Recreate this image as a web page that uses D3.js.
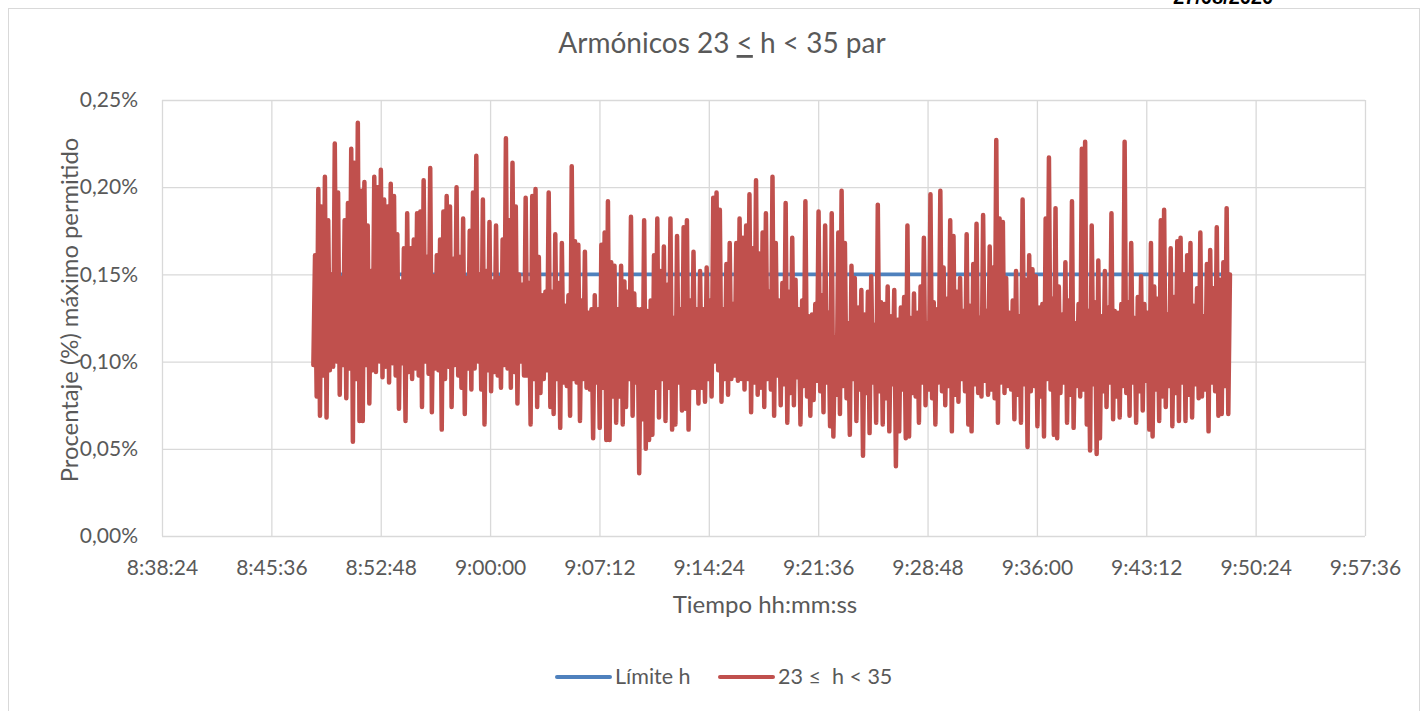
<!DOCTYPE html>
<html>
<head>
<meta charset="utf-8">
<script src="https://cdnjs.cloudflare.com/ajax/libs/d3/7.8.5/d3.min.js"></script>
<style>
  body { margin:0; background:#fff; }
  text { font-family: Lato, "Open Sans", sans-serif; fill:#595959; }
</style>
</head>
<body>
<script>
// armonicos 23 <= h < 35 par, en milesimas de % (161 = 0,161%)
var armonicos1 = [98,161,80,199,69,189,92,206,68,181,95,150,97,225,100,197,81,148,98,181,79,191,96,222,54,214,90,237,66,198,66,203,98,178,76,152,95,206,94,200,100,210,91,193,97,189,88,202,99,195,92,173,73,146,99,165,66,185,94,165,90,170,96,185,92,186,74,204,100,160,93,211,71,149,96,161,95,170,61,186,90,195,97];
var armonicos2 = [189,74,159,98,200,92,160,85,182,70,148,96,175,84,197,96,218,100,150,84,193,64,152,95,180,83,146,94,178,92,148,85,170,98,228,96,181,85,214,94,189,76,150,100,144,92,194,92,145,64,195,90,199,74,160,82,138,90,140,95,197,74,140,70,173,90,145,62,168,88,132,86,138,69,212,90,169,88,167,66,135,90,163,85,128,84,130,56,138,88,130,62];
var armonicos3 = [167,85,174,55,192,55,157,80,155,65,130,80,155,64,146,74,140,90,183,69,139,88,130,36,130,67,181,50,129,55,135,58,161,85,182,68,152,90,166,66,144,85,182,61,125,64,172,88,130,72,177,73,181,61,135,85,163,85,130,76,152,85,130,77,154,90,135,80,194,100,197,95,187,77,130,90,156,81,168,90,133,92,168,89,182,90,171,84,178,90,196];
var armonicos4 = [71,165,88,204,81,162,85,174,74,185,90,140,84,206,69,168,92,135,75,145,87,191,65,140,82,171,75,147,91,130,64,135,86,192,80,126,69,127,78,133,89,186,83,138,71,178,88,128,63,185,57,114,81,174,70,198,86,168,79,122,58,155,90,148,66,131,84,141,46,127,82,140,59,149,88,121,65,190,83,134,64,133,79,143,60,126,87,141,40,124,60,131,84,137,56,178];
var armonicos5 = [57,125,82,139,80,128,65,143,88,171,75,122,84,196,79,134,64,130,88,198,83,154,75,136,86,181,60,172,81,140,77,148,90,129,83,173,64,132,60,156,87,179,82,125,80,184,89,129,81,166,84,154,79,227,65,182,88,180,82,148,86,128,84,135,67,152,81,126,65,193,87,147,51,161,83,153,86,149,63,131,80,133,57,182,90,217,84,136,58];
var armonicos6 = [188,56,143,82,127,88,157,65,135,81,192,62,122,86,133,80,222,84,226,64,129,49,178,87,134,47,158,56,126,83,152,74,131,88,185,67,129,80,128,68,133,86,226,82,134,69,168,88,125,65,137,83,149,72,133,89,128,61,168,57,143,84,136,66,181,80,187,74,127,86,165,63,137,82,169,66,171,88,150,66,161,81,168,68,132,87,142,79,174,80,126,84,156,60,164,88,142,83,177,69,147,70,157,86,188,70,150];

var xTickLabels = ["8:38:24","8:45:36","8:52:48","9:00:00","9:07:12","9:14:24","9:21:36","9:28:48","9:36:00","9:43:12","9:50:24","9:57:36"];
var yTicks = [0, 0.05, 0.10, 0.15, 0.20, 0.25];
var limiteH = 0.15;
var inicio = "8:48:22", paso = 6.5; // segundos entre muestras
var fecha = "27/08/2020";

var fs = 21;

function segundos(s){ var p = s.split(":").map(Number); return p[0]*3600 + p[1]*60 + p[2]; }

var valores = [].concat(armonicos1, armonicos2, armonicos3, armonicos4, armonicos5, armonicos6);
var data = valores.map(function(v, i){ return {t: segundos(inicio) + i*paso, v: v/1000}; });

var svg = d3.select("body").append("svg").attr("width", 1421).attr("height", 711);

// marco del grafico
svg.append("rect").attr("x", 8.5).attr("y", 8.5).attr("width", 1411).attr("height", 720)
  .attr("fill", "none").attr("stroke", "#d9d9d9");

svg.append("text").attr("x", 1173).attr("y", 4)
  .style("font-family", "'Liberation Sans', Arial, sans-serif").style("font-weight", "bold")
  .style("font-size", "20px").style("fill", "#000").text(fecha);

var x = d3.scaleLinear()
  .domain([segundos(xTickLabels[0]), segundos(xTickLabels[xTickLabels.length-1])])
  .range([162, 1365]);
var y = d3.scaleLinear().domain([0, 0.25]).range([536, 100]);

var fmt = function(d){ return d.toFixed(2).replace(".", ",") + "%"; };

// rejilla
svg.append("g").attr("transform", "translate(162,0)")
  .call(d3.axisLeft(y).tickValues(yTicks).tickSize(-1203).tickFormat(""))
  .call(function(g){ g.select(".domain").remove(); g.selectAll("line").attr("stroke", "#d9d9d9").attr("stroke-width", 1.3); });
svg.append("g").attr("transform", "translate(0,536)")
  .call(d3.axisBottom(x).tickValues(xTickLabels.map(segundos)).tickSize(-436).tickFormat(""))
  .call(function(g){ g.select(".domain").remove(); g.selectAll("line").attr("stroke", "#d9d9d9").attr("stroke-width", 1.3); });

// ejes
svg.append("g").attr("transform", "translate(162,0)")
  .call(d3.axisLeft(y).tickValues(yTicks).tickSize(0).tickPadding(24).tickFormat(fmt))
  .call(function(g){ g.select(".domain").remove(); g.selectAll("text").style("font-size", fs + "px").style("font-family", null).attr("fill", null); });
svg.append("g").attr("transform", "translate(0,536)")
  .call(d3.axisBottom(x).tickValues(xTickLabels.map(segundos)).tickSize(0).tickPadding(24)
    .tickFormat(function(d, i){ return xTickLabels[i]; }))
  .call(function(g){ g.select(".domain").remove(); g.selectAll("text").style("font-size", fs + "px").style("font-family", null).attr("fill", null); });

// series
var line = d3.line().x(function(d){ return x(d.t); }).y(function(d){ return y(d.v); });
var ext = d3.extent(data, function(d){ return d.t; });
svg.append("path").datum([{t: ext[0], v: limiteH}, {t: ext[1], v: limiteH}])
  .attr("d", line).attr("fill", "none").attr("stroke", "#4f81bd").attr("stroke-width", 3.8);
svg.append("path").datum(data)
  .attr("d", line).attr("fill", "none").attr("stroke", "#c0504d").attr("stroke-width", 4.5)
  .attr("stroke-linejoin", "round").attr("stroke-linecap", "round");

// titulos
var title = svg.append("text").attr("x", 722).attr("y", 53).attr("text-anchor", "middle")
  .style("font-size", "28px").style("white-space", "pre");
title.append("tspan").text("Armónicos 23 ");
title.append("tspan").style("text-decoration", "underline").text("<");
title.append("tspan").text(" h < 35 par");

svg.append("text").attr("x", 765).attr("y", 613).attr("text-anchor", "middle")
  .style("font-size", "24px").text("Tiempo hh:mm:ss");

svg.append("text").attr("transform", "translate(78,310) rotate(-90)").attr("text-anchor", "middle")
  .style("font-size", "23.8px").text("Procentaje (%) máximo permitido");

// leyenda
var leyenda = [
  {nombre: "Límite h", color: "#4f81bd", x: 557},
  {nombre: "23 ≤  h < 35", color: "#c0504d", x: 720}
];
var lg = svg.selectAll(".ley").data(leyenda).enter().append("g").attr("class", "ley");
lg.append("line").attr("x1", function(d){ return d.x; }).attr("x2", function(d){ return d.x + 53; })
  .attr("y1", 677).attr("y2", 677).attr("stroke", function(d){ return d.color; })
  .attr("stroke-width", 4).attr("stroke-linecap", "round");
lg.append("text").attr("x", function(d){ return d.x + 58; }).attr("y", 684)
  .style("font-size", "21.5px").style("white-space", "pre").text(function(d){ return d.nombre; });
</script>
</body>
</html>
